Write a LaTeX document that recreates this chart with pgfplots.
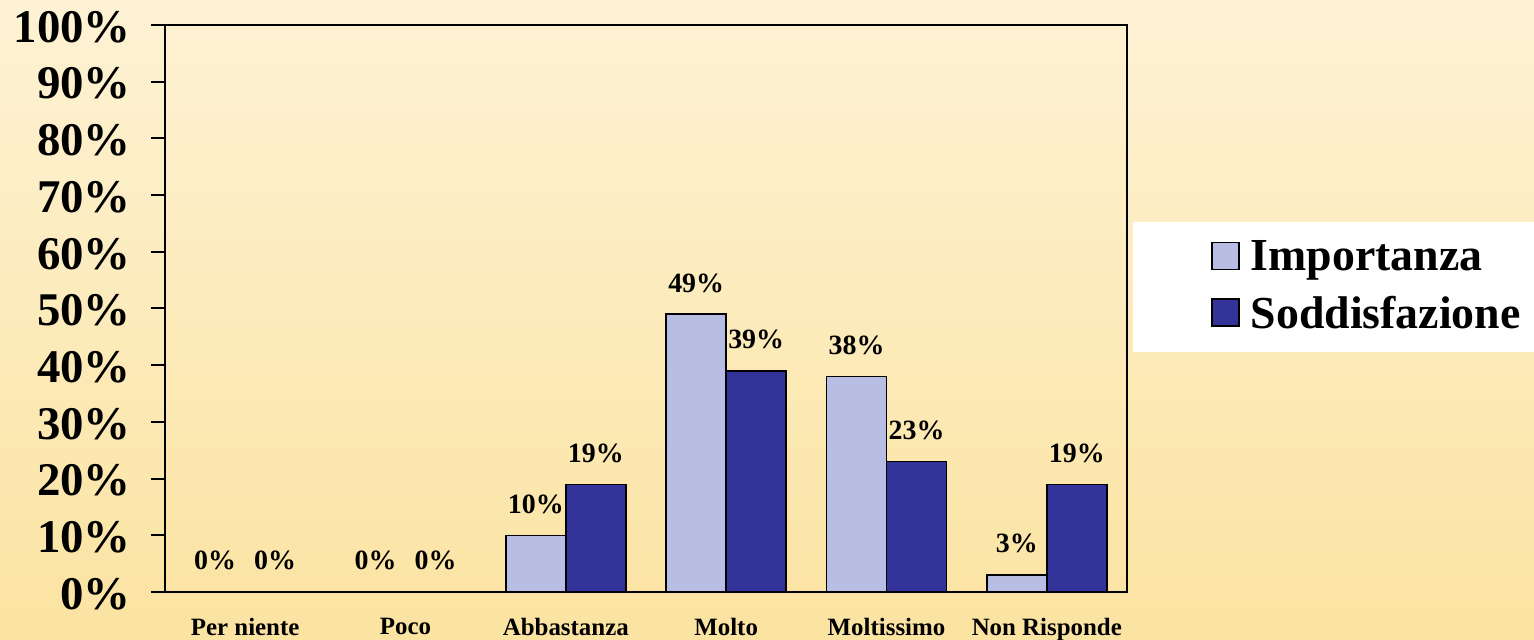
\documentclass[border=0pt]{standalone}
\usepackage{fontspec}
\setmainfont{Liberation Serif}
\usepackage{pgfplots}
\pgfplotsset{compat=1.18}
\definecolor{bgtop}{RGB}{253,242,212}
\definecolor{bgbot}{RGB}{251,227,161}
\definecolor{impcol}{RGB}{183,189,227}
\definecolor{sodcol}{RGB}{51,51,153}

\begin{document}
\begin{tikzpicture}
\shade[top color=bgtop,bottom color=bgbot] (0,0) rectangle (1534bp,640bp);
\useasboundingbox (0,0) rectangle (1534bp,640bp);
\fill[white] (1133bp,288bp) rectangle (1534bp,418bp);
\begin{axis}[
  at={(165bp,48bp)}, anchor=south west,
  scale only axis, width=962bp, height=567bp,
  ybar=0pt, bar width=60bp,
  xmin=-0.5, xmax=5.5, ymin=0, ymax=100,
  xtick=data,
  xticklabels={Per niente,Poco,Abbastanza,Molto,Moltissimo,Non Risponde},
  ytick={0,10,...,100},
  yticklabel={\pgfmathprintnumber{\tick}\%},
  /pgf/number format/assume math mode=true,
  axis line style={line width=2bp},
  tick align=outside, major tick length=14bp,
  ytick style={line width=2bp, black},
  xtick style={draw=none},
  ytick pos=left,
  yticklabel style={font=\bfseries\fontsize{47}{47}\selectfont, inner sep=0pt, xshift=-20bp, yshift=-2bp},
  xticklabel style={font=\bfseries\fontsize{25}{25}\selectfont, inner sep=0pt, yshift=-12bp},
  nodes near coords={\pgfmathprintnumber{\pgfplotspointmeta}\%},
  nodes near coords style={font=\bfseries\fontsize{28}{28}\selectfont, inner sep=0pt, yshift=21bp, black},
  legend cell align=left,
  legend image code/.code={\draw[#1, line width=1.5bp] (0bp,-13bp) rectangle (27bp,14bp);},
  legend style={at={(1.0873,0.541)}, anchor=west, draw=none, fill=none, inner sep=0pt,
    font=\bfseries\fontsize{46}{46}\selectfont, row sep=20bp,
    /tikz/every odd column/.append style={column sep=9bp}},
]
\addplot[fill=impcol, draw=black, line width=1.5bp] coordinates {(0,0) (1,0) (2,10) (3,49) (4,38) (5,3)};
\addplot[fill=sodcol, draw=black, line width=1.5bp] coordinates {(0,0) (1,0) (2,19) (3,39) (4,23) (5,19)};
\legend{Importanza,Soddisfazione}
\end{axis}
\end{tikzpicture}
\end{document}
